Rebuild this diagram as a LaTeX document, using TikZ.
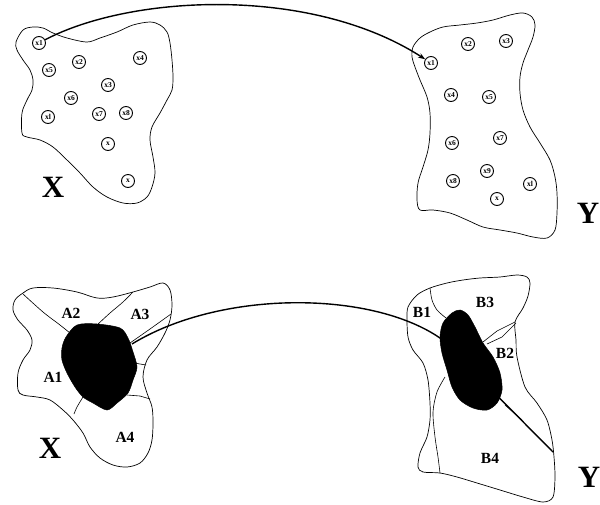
\documentclass[tikz,border=0pt]{standalone}
\usepackage{fontspec}
\setmainfont{Liberation Serif}
\usetikzlibrary{arrows.meta}
\begin{document}
\begin{tikzpicture}[x=1pt,y=-1pt,
  outline/.style={line width=0.7pt},
  divider/.style={line width=0.6pt},
  pt/.style={circle, draw, line width=0.9pt, minimum size=13pt, inner sep=0pt,
    font=\fontsize{7.5}{7.5}\selectfont\bfseries},
  setlabel/.style={font=\fontsize{31}{31}\selectfont\bfseries},
  reglabel/.style={font=\fontsize{15.5}{15.5}\selectfont\bfseries},
  maparc/.style={line width=1.4pt},
  blob/.style={fill=black, draw=black, line width=0.5pt}]
\useasboundingbox (0,0) rectangle (600,504);

% ---------- top left set X ----------
\draw[outline] plot[smooth cycle, tension=0.55] coordinates {
 (16,42) (23,30) (33,27) (43,28) (53,33) (67,38) (87,42) (100,38) (117,32)
 (133,25) (150,22) (160,25) (167,32) (170,43) (172,60) (173,77) (172,90)
 (167,100) (160,113) (152,127) (150,140) (153,157) (155,173) (152,187)
 (147,197) (137,203) (123,203) (107,197) (93,187) (80,173) (67,160)
 (53,147) (40,140) (27,137) (22,133) (22,113) (27,100) (32,90) (33,80)
 (30,70) (23,60) (17,50)};
\node[pt] (lx1) at (39,43) {x1};
\node[pt] (lx5) at (49,70) {x5};
\node[pt] (lx2) at (79,62) {x2};
\node[pt] (lx4) at (140,58) {x4};
\node[pt] (lx3) at (108,85) {x3};
\node[pt] (lx6) at (71,98) {x6};
\node[pt] (lxl) at (48,117) {xl};
\node[pt] (lx7) at (99,114) {x7};
\node[pt] (lx8) at (126,113) {x8};
\node[pt] (lxa) at (108,144) {x};
\node[pt] (lxb) at (128,181) {x};
\node[setlabel] (tX) at (53,187) {X};

% ---------- top right set Y ----------
\draw[outline] plot[smooth cycle, tension=0.55] coordinates {
 (413,47) (420,38) (430,32) (443,27) (460,25) (477,23) (493,20) (510,15)
 (523,13) (532,17) (535,25) (533,37) (528,50) (523,63) (520,77) (520,93)
 (523,110) (530,127) (540,143) (550,160) (555,177) (557,193) (557,213)
 (555,230) (547,238) (533,237) (517,233) (500,230) (483,227) (467,220)
 (450,213) (433,210) (420,210) (417,200) (418,183) (423,167) (428,150)
 (430,133) (430,113) (427,97) (420,80) (415,67) (412,57)};
\node[pt] (rx1) at (431,63) {x1};
\node[pt] (rx2) at (468,44) {x2};
\node[pt] (rx3) at (506,41) {x3};
\node[pt] (rx4) at (451,95) {x4};
\node[pt] (rx5) at (489,97) {x5};
\node[pt] (rx6) at (452,143) {x6};
\node[pt] (rx7) at (500,138) {x7};
\node[pt] (rx8) at (453,181) {x8};
\node[pt] (rx9) at (487,171) {x9};
\node[pt] (rxl) at (530,184) {xl};
\node[pt] (rxa) at (497,199) {x};
\node[setlabel] (tY) at (588,213) {Y};

\draw[maparc,-{Stealth[length=7pt,width=5pt]}] (lx1) .. controls (130,-5) and (310,-15) .. (rx1);

% ---------- bottom left set X ----------
\draw[outline] plot[smooth cycle, tension=0.55] coordinates {
 (23,293) (33,288) (53,288) (77,292) (97,298) (113,297) (133,292) (150,287)
 (163,283) (170,290) (172,305) (170,320) (165,333) (157,347) (147,360)
 (143,377) (147,393) (152,407) (153,423) (152,440) (148,453) (140,463)
 (127,467) (113,465) (100,458) (90,447) (83,433) (73,420) (63,410)
 (50,400) (37,397) (23,395) (18,390) (18,373) (23,360) (30,350) (32,340)
 (27,330) (18,320) (13,310) (15,300)};
\draw[divider] plot[smooth, tension=0.5] coordinates {(23,294) (43,312) (60,325) (70,333)};
\draw[divider] plot[smooth, tension=0.5] coordinates {(97,325) (110,313) (123,302) (133,292)};
\draw[divider] plot[smooth, tension=0.5] coordinates {(130,343) (150,329) (171,314)};
\draw[divider] (134,363) -- (146,365);
\draw[divider] (127,395) -- (140,396) -- (150,399);
\draw[divider] plot[smooth, tension=0.5] coordinates {(83,397) (77,407) (74,414)};

% ---------- bottom right set Y ----------
\draw[outline] plot[smooth cycle, tension=0.5] coordinates {
 (408,307) (417,295) (430,288) (447,283) (463,280) (480,278) (500,277)
 (517,275) (527,277) (530,283) (528,296) (523,308) (515,322) (516,340)
 (517,357) (525,387) (537,403) (547,420) (552,440) (554,457) (555,477)
 (553,497) (543,502) (523,497) (500,490) (477,483) (457,477) (440,473)
 (423,472) (418,467) (420,453) (427,437) (430,420) (430,403) (428,380)
 (423,363) (413,350) (408,337) (407,320)};
\draw[divider] plot[smooth, tension=0.5] coordinates {(430,288) (432,300) (437,310) (446,318)};
\draw[divider] plot[smooth, tension=0.5] coordinates {(445,377) (437,392) (433,412) (435,437) (438,457) (440,473)};
\draw[divider] (483,342) -- (497,331) -- (515,322);
\draw[divider] (487,344) -- (502,337) -- (516,323);
\draw[divider] (505,405) -- (522,420);

% ---------- mapping arc between regions ----------
\coordinate (aend) at (132,344);
\coordinate (bin) at (440,338);
\coordinate (bout) at (553,452);
\draw[maparc] (aend) .. controls (220,290) and (370,290) .. (bin) -- (bout);

% dark regions
\draw[blob] plot[smooth cycle, tension=0.5] coordinates {
 (62,348) (66,337) (77,325) (97,324) (120,328) (128,338) (133,352)
 (137,367) (133,380) (128,393) (117,403) (107,410) (93,403) (83,397)
 (75,387) (67,373) (62,360)};
\draw[blob] plot[smooth cycle, tension=0.5] coordinates {
 (440,337) (443,323) (452,313) (460,310) (468,315) (475,327) (483,343)
 (493,357) (500,373) (502,390) (497,403) (487,410) (473,408) (460,400)
 (452,387) (447,370) (442,353)};

% labels
\node[reglabel] (A2) at (71,313) {A2};
\node[reglabel] (A3) at (140,314) {A3};
\node[reglabel] (A1) at (53,377) {A1};
\node[reglabel] (A4) at (125,437) {A4};
\node[reglabel] (B1) at (422,312) {B1};
\node[reglabel] (B3) at (485,302) {B3};
\node[reglabel] (B2) at (505,353) {B2};
\node[reglabel] (B4) at (490,458) {B4};
\node[setlabel] (bX) at (50,448) {X};
\node[setlabel] (bY) at (589,477) {Y};
\end{tikzpicture}
\end{document}
